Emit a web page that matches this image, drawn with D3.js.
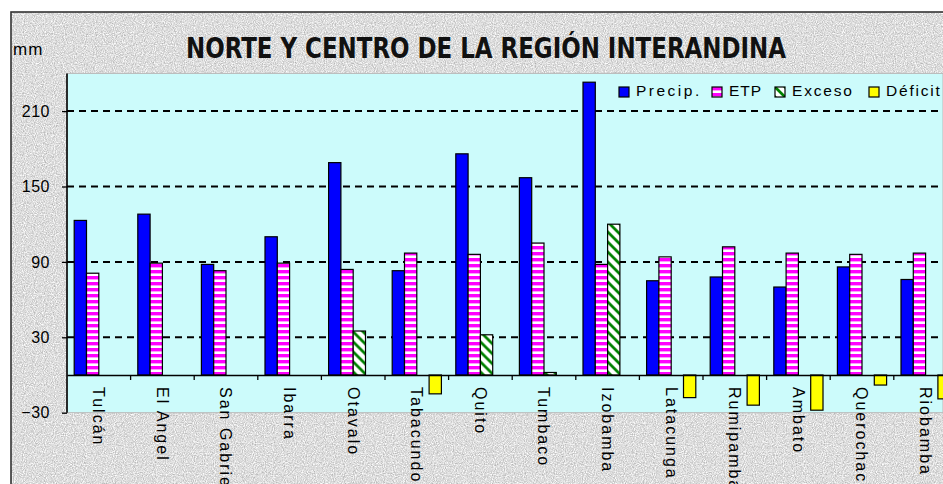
<!DOCTYPE html>
<html>
<head>
<meta charset="utf-8">
<script src="https://cdn.jsdelivr.net/npm/d3@7"></script>
<style>
  html, body { margin: 0; padding: 0; background: #ffffff; }
  svg { display: block; }
</style>
</head>
<body>
<svg id="chart" width="943" height="484"></svg>
<script>
// ---- data ----
const categories = ["Tulcán","El Angel","San Gabriel","Ibarra","Otavalo","Tabacundo","Quito","Tumbaco","Izobamba","Latacunga","Rumipamba","Ambato","Querochaca","Riobamba"];
const precipValues  = [123, 128, 88, 110, 169, 83, 176, 157, 233, 75, 78, 70, 86, 76];
const etpValues     = [81, 89, 83, 89, 84, 97, 96, 105, 88, 94, 102, 97, 96, 97];
const excesoValues  = [0, 0, 0, 0, 35, 0, 32, 2, 120, 0, 0, 0, 0, 0];
const deficitValues = [0, 0, 0, 0, 0, -15, 0, 0, 0, -18, -24, -28, -8, -19];
const seriesNames = ["Precip.", "ETP", "Exceso", "Déficit"];
const yTickValues = [-30, 30, 90, 150, 210];
const gridValues  = [30, 90, 150, 210];
const titleText = "NORTE Y CENTRO DE LA REGIÓN INTERANDINA";
const unitText = "mm";

const seriesData = [precipValues, etpValues, excesoValues, deficitValues];
const seriesFill = ["#0000ff", "url(#etpPat)", "url(#excPat)", "#ffff00"];

const svg = d3.select("#chart");
const defs = svg.append("defs");

// granite texture
const f = defs.append("filter").attr("id", "granite")
  .attr("x", 0).attr("y", 0).attr("width", 1).attr("height", 1)
  .attr("color-interpolation-filters", "sRGB");
f.append("feTurbulence").attr("type", "fractalNoise").attr("baseFrequency", 0.9)
  .attr("numOctaves", 2).attr("seed", 3).attr("result", "n");
f.append("feColorMatrix").attr("type", "matrix")
  .attr("values", "0.45 0 0 0 0.64  0.45 0 0 0 0.64  0.45 0 0 0 0.64  0 0 0 0 1");

// ETP pattern: horizontal magenta stripes on white
const pe = defs.append("pattern").attr("id", "etpPat").attr("patternUnits", "userSpaceOnUse")
  .attr("width", 6).attr("height", 6);
pe.append("rect").attr("width", 6).attr("height", 6).attr("fill", "#ffffff");
pe.append("rect").attr("width", 6).attr("height", 3.4).attr("fill", "#ff00ff");

// Exceso pattern: green diagonal stripes on white
const px = defs.append("pattern").attr("id", "excPat").attr("patternUnits", "userSpaceOnUse")
  .attr("width", 10).attr("height", 10);
px.append("rect").attr("width", 10).attr("height", 10).attr("fill", "#ffffff");
px.append("path").attr("d", "M-2,-2 L12,12 M-2,8 L2,12 M8,-2 L12,2")
  .attr("stroke", "#008000").attr("stroke-width", 2.8).attr("fill", "none");

// outer chart area
svg.append("rect").attr("x", 11).attr("y", 12).attr("width", 940).attr("height", 480)
  .attr("fill", "#e2e2e2").attr("filter", "url(#granite)");
svg.append("rect").attr("x", 11).attr("y", 12).attr("width", 940).attr("height", 480)
  .attr("fill", "none").attr("stroke", "#333").attr("stroke-width", 1.6);

// scales
const plotLeft = 67, bandW = 63.6;
const x0 = d3.scaleBand().domain(categories).range([plotLeft, plotLeft + bandW * categories.length])
  .paddingInner(0).paddingOuter(0);
const x1 = d3.scaleBand().domain(seriesNames).range([0, x0.bandwidth()])
  .paddingInner(0).paddingOuter(0.585);
const y = d3.scaleLinear().domain([-30, 240]).range([412.7, 73.4]);

// plot area
svg.append("rect").attr("x", plotLeft).attr("y", y(240)).attr("width", 943 - plotLeft)
  .attr("height", y(-30) - y(240)).attr("fill", "#ccfbfb").attr("stroke", "#b8b8b8").attr("stroke-width", 1);

// gridlines
svg.append("g").selectAll("line").data(gridValues).join("line")
  .attr("x1", plotLeft).attr("x2", 943)
  .attr("y1", d => y(d)).attr("y2", d => y(d))
  .attr("stroke", "#000").attr("stroke-width", 2).attr("stroke-dasharray", "7,5");

// bars
const groups = svg.append("g").selectAll("g").data(categories).join("g")
  .attr("transform", d => `translate(${x0(d)},0)`);
groups.selectAll("rect").data((c, i) => seriesNames.map((s, k) => ({s, k, v: seriesData[k][i]})).filter(d => d.v !== 0))
  .join("rect")
  .attr("x", d => x1(d.s))
  .attr("width", x1.bandwidth())
  .attr("y", d => y(Math.max(0, d.v)))
  .attr("height", d => Math.abs(y(d.v) - y(0)))
  .attr("fill", d => seriesFill[d.k])
  .attr("stroke", "#000").attr("stroke-width", 1.2);

// y axis
const yAxis = d3.axisLeft(y).tickValues(yTickValues).tickSize(5).tickPadding(12).tickFormat(d3.format("d"));
const ya = svg.append("g").attr("transform", `translate(${plotLeft},0)`).call(yAxis);
ya.select(".domain").remove();
ya.selectAll(".tick line").attr("stroke", "#000").attr("stroke-width", 1.3);
ya.selectAll(".tick text").attr("font-family", "Liberation Sans, Arial, sans-serif")
  .attr("font-size", 16).attr("fill", "#000").attr("letter-spacing", 0.5);
svg.append("line").attr("x1", plotLeft).attr("x2", plotLeft).attr("y1", y(240)).attr("y2", y(-30))
  .attr("stroke", "#000").attr("stroke-width", 1.6);

// category axis at zero
const xAxis = d3.axisBottom(x0).tickSize(0).tickFormat("");
const xa = svg.append("g").attr("transform", `translate(0,${y(0)})`).call(xAxis);
xa.select(".domain").attr("stroke", "#000").attr("stroke-width", 1.6);
svg.append("g").selectAll("line").data(categories).join("line")
  .attr("x1", d => x0(d) + x0.bandwidth()).attr("x2", d => x0(d) + x0.bandwidth())
  .attr("y1", y(0)).attr("y2", y(0) + 5).attr("stroke", "#000").attr("stroke-width", 1.3);

// category labels (vertical)
svg.append("g").selectAll("text").data(categories).join("text")
  .attr("transform", d => `translate(${x0(d) + x0.bandwidth() / 2},${y(0) + 12}) rotate(90)`)
  .attr("dy", "0.35em")
  .attr("font-family", "Liberation Sans, Arial, sans-serif").attr("font-size", 16)
  .attr("letter-spacing", 2).attr("fill", "#000")
  .text(d => d);

// title
svg.append("text").attr("x", 186).attr("y", 58).attr("textLength", 600).attr("lengthAdjust", "spacingAndGlyphs")
  .attr("font-family", "Liberation Sans Narrow, DejaVu Sans Condensed, Arial, sans-serif")
  .attr("font-weight", "bold").attr("font-size", 28).attr("fill", "#111").text(titleText);

// unit
svg.append("text").attr("x", 13).attr("y", 55)
  .attr("font-family", "Liberation Sans, Arial, sans-serif").attr("font-size", 17)
  .attr("letter-spacing", 1).attr("fill", "#000").text(unitText);

// legend
const legendX = [619, 712, 775, 869];
const lg = svg.append("g").selectAll("g").data(seriesNames).join("g")
  .attr("transform", (d, i) => `translate(${legendX[i]},87)`);
lg.append("rect").attr("width", 10).attr("height", 10)
  .attr("fill", (d, i) => seriesFill[i]).attr("stroke", "#000").attr("stroke-width", 1.2);
lg.append("text").attr("x", 17).attr("y", 9)
  .attr("font-family", "Liberation Sans, Arial, sans-serif").attr("font-size", 15.5)
  .attr("letter-spacing", (d, i) => i === 0 ? 2.5 : (i === 1 ? 1 : 1.8)).attr("fill", "#000")
  .text(d => d);
</script>
</body>
</html>
